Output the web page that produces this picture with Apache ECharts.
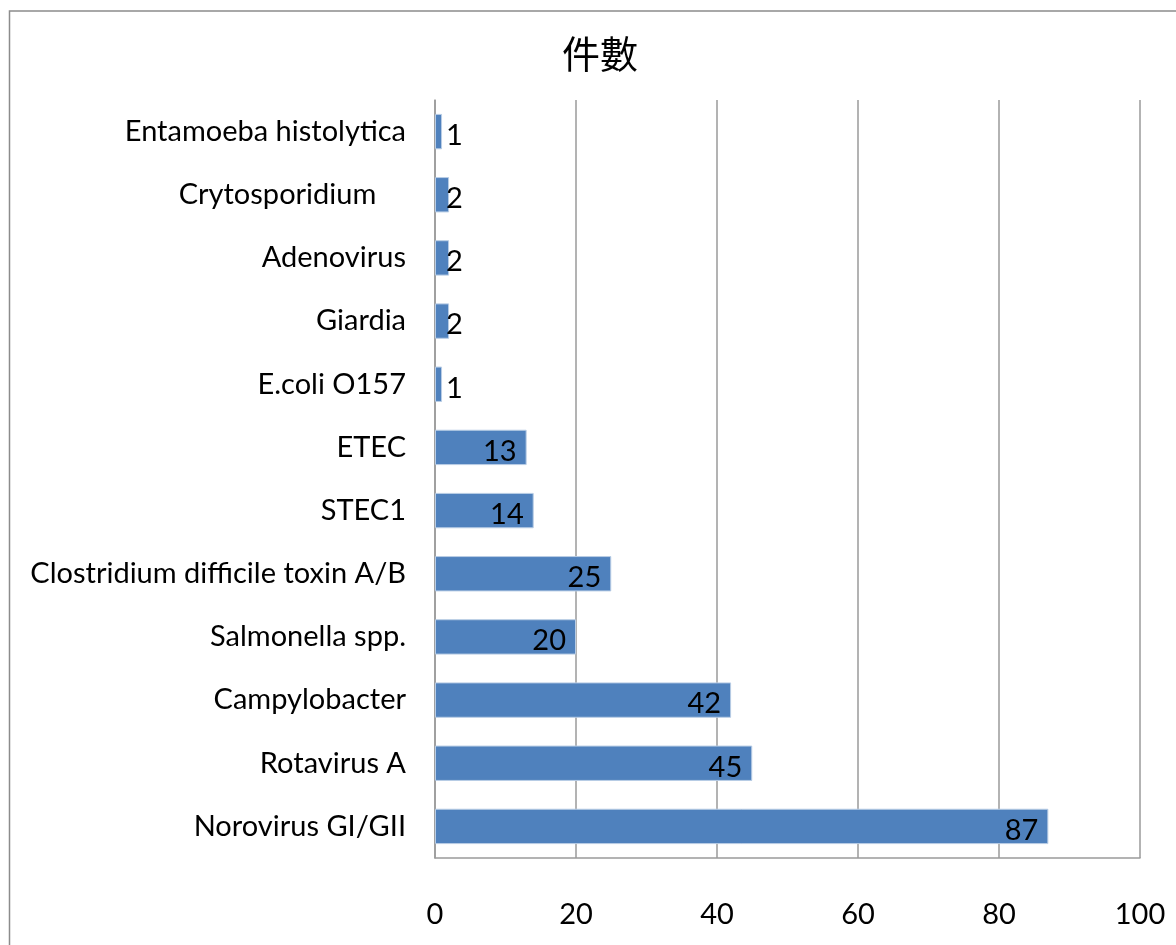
<!DOCTYPE html>
<html>
<head>
<meta charset="utf-8">
<script src="https://cdn.jsdelivr.net/npm/echarts@6/dist/echarts.min.js"></script>
<style>
  html, body { margin: 0; padding: 0; background: #fff; }
  #chart { width: 1176px; height: 945px; }
</style>
</head>
<body>
<div id="chart"></div>
<script>
// bottom to top, as on the picture
const categories = [
  'Norovirus GI/GII',
  'Rotavirus A',
  'Campylobacter',
  'Salmonella spp.',
  'Clostridium difficile toxin A/B',
  'STEC1',
  'ETEC',
  'E.coli O157',
  'Giardia',
  'Adenovirus',
  'Crytosporidium    ',
  'Entamoeba histolytica'
];
const counts = [87, 45, 42, 20, 25, 14, 13, 1, 2, 2, 2, 1];
const xTicks = [0, 20, 40, 60, 80, 100];

const font = 'Lato, "Open Sans", sans-serif';

const chart = echarts.init(document.getElementById('chart'));

const barData = counts.map(v => {
  const item = { value: v };
  // tiny bars: the label sits just past the bar
  if (v < 5) {
    item.label = { position: 'insideLeft', distance: 11 };
  }
  return item;
});

chart.setOption({
  animation: false,
  backgroundColor: '#fff',
  title: {
    text: '件數',
    left: 557,
    top: 30,
    textStyle: {
      fontFamily: '"Noto Sans CJK TC", sans-serif',
      fontSize: 38,
      fontWeight: 'normal',
      color: '#000'
    }
  },
  graphic: [{
    type: 'rect',
    shape: { x: 9.5, y: 11, width: 1300, height: 1100 },
    style: { fill: 'none', stroke: '#8c8c8c', lineWidth: 1.5 },
    silent: true
  }],
  grid: { left: 435, right: 36, top: 100, bottom: 87 },
  xAxis: {
    type: 'value',
    min: xTicks[0],
    max: xTicks[xTicks.length - 1],
    interval: 20,
    axisLine: { show: true, lineStyle: { color: '#9a9a9a', width: 1.5 } },
    axisTick: { show: false },
    splitLine: { show: true, lineStyle: { color: '#9a9a9a', width: 1.5 } },
    axisLabel: {
      margin: 42,
      fontFamily: font,
      fontSize: 29,
      color: '#000'
    }
  },
  yAxis: {
    type: 'category',
    data: categories,
    axisLine: { show: true, lineStyle: { color: '#9a9a9a', width: 1.5 } },
    axisTick: { show: false },
    splitLine: { show: false },
    axisLabel: {
      margin: 29,
      fontFamily: font,
      fontSize: 29,
      color: '#000'
    }
  },
  series: [{
    type: 'bar',
    data: barData,
    barWidth: '56%',
    itemStyle: {
      color: '#4f81bd',
      borderColor: '#b9cde5',
      borderWidth: 1
    },
    label: {
      show: true,
      position: 'insideRight',
      distance: 10,
      offset: [0, 4],
      fontFamily: font,
      fontSize: 29,
      color: '#000'
    }
  }]
});
</script>
</body>
</html>
